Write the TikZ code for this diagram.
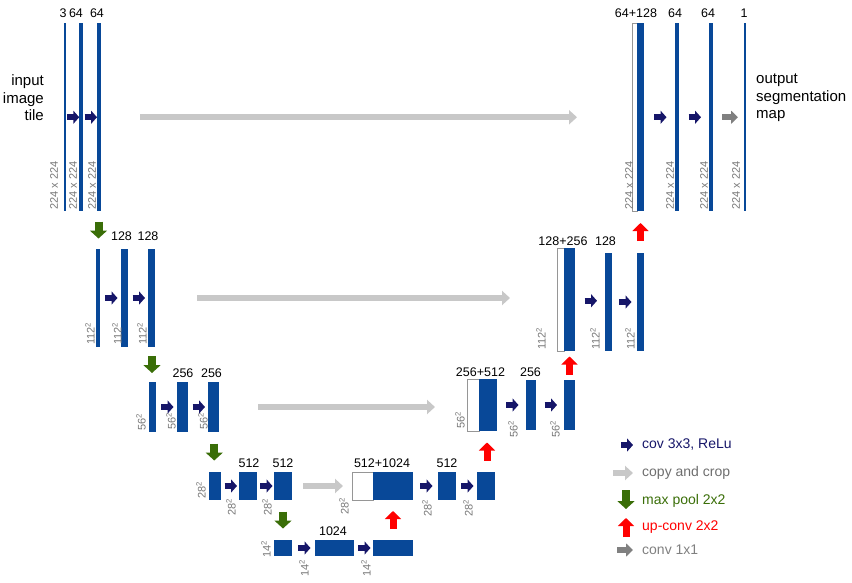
\documentclass[tikz,border=0pt]{standalone}
\usepackage{fontspec}
\setmainfont{Liberation Sans}
\usetikzlibrary{arrows.meta,calc}
\definecolor{unetblue}{RGB}{8,72,152}
\definecolor{convnavy}{RGB}{22,22,105}
\definecolor{copygray}{RGB}{200,200,200}
\definecolor{copytext}{RGB}{110,110,110}
\definecolor{poolgreen}{RGB}{58,110,8}
\definecolor{upred}{RGB}{255,0,0}
\definecolor{fingray}{RGB}{128,128,128}
\definecolor{sizegray}{RGB}{120,120,120}
\definecolor{catgray}{RGB}{150,150,150}
\begin{document}
\begin{tikzpicture}[x=1pt, y=-1pt,
 bar/.style args = {#1/#2}{%
      rectangle, fill=unetblue, inner sep=0pt, outer sep=0pt,
      anchor=north west, minimum width=#1pt, minimum height=#2pt},
 cat/.style args = {#1/#2}{%
      rectangle, draw=catgray, line width=0.6pt, fill=white,
      inner sep=0pt, outer sep=0pt,
      anchor=north west, minimum width=#1pt, minimum height=#2pt},
 chan/.style = {font=\fontsize{12.5}{15}\selectfont, inner sep=0pt},
 sizelbl/.style = {font=\fontsize{11}{13}\selectfont, text=sizegray,
      rotate=90, anchor=west, inner sep=0pt},
 side/.style = {font=\fontsize{15}{17.5}\selectfont, inner sep=0pt},
 legend/.style = {font=\fontsize{14}{16}\selectfont, anchor=west, inner sep=0pt},
 convtip/.style = {draw=convnavy, line width=6pt, -{Triangle[length=6pt,width=13pt]}},
 copytip/.style = {draw=copygray, line width=5.5pt, -{Triangle[length=8pt,width=14pt]}},
 pooltip/.style = {draw=poolgreen, line width=8pt, -{Triangle[length=8pt,width=17pt]}},
 uptip/.style = {draw=upred, line width=7pt, -{Triangle[length=8pt,width=16pt]}},
 fintip/.style = {draw=fingray, line width=6pt, -{Triangle[length=7pt,width=13pt]}},
 conv/.style = {convtip, to path={%
      ($(\tikztostart)!0.5!(\tikztotarget)+(-5.5,0)$) --
      ($(\tikztostart)!0.5!(\tikztotarget)+(7,0)$)}},
 fin/.style = {fintip, to path={%
      ($(\tikztostart)!0.5!(\tikztotarget)+(-6.5,0)$) --
      ($(\tikztostart)!0.5!(\tikztotarget)+(9.5,0)$)}},
 pool/.style = {pooltip, to path={%
      ($(\tikztostart)!0.5!(\tikztotarget)+(0,-8.5)$) --
      ($(\tikztostart)!0.5!(\tikztotarget)+(0,8.5)$)}},
 up/.style = {uptip, to path={%
      ($(\tikztostart)!0.5!(\tikztotarget)+(0,9)$) --
      ($(\tikztostart)!0.5!(\tikztotarget)+(0,-9)$)}},
 copy/.style 2 args = {copytip, shorten <=#1pt, shorten >=#2pt}
                    ]
\useasboundingbox (0,0) rectangle (852,583);
% contracting path
\node(e11) [bar=1.5/187.5] at (64,23.5) {};
\node(e12) [bar=4/187.5] at (79,23.5) {};
\node(e13) [bar=4/187.5] at (97,23.5) {};
\node(e21) [bar=4/98] at (96,249) {};
\node(e22) [bar=7/98] at (121,249) {};
\node(e23) [bar=7/98] at (148,249) {};
\node(e31) [bar=7/50] at (149,382) {};
\node(e32) [bar=11/50] at (177,382) {};
\node(e33) [bar=11/50] at (208,382) {};
\node(e41) [bar=12/28] at (209,472) {};
\node(e42) [bar=18/28] at (239,472) {};
\node(e43) [bar=18/28] at (274,472) {};
\node(e51) [bar=18/16] at (274,540) {};
\node(e52) [bar=39/16] at (315,540) {};
\node(e53) [bar=40/16] at (373,540) {};
% expanding path
\node(d41w) [cat=21/28] at (352,472) {};
\node(d41) [bar=40/28] at (373,472) {};
\node(d42) [bar=18/28] at (438,472) {};
\node(d43) [bar=18/28] at (477,472) {};
\node(d31w) [cat=12/52] at (467,379) {};
\node(d31) [bar=18/52] at (479,379) {};
\node(d32) [bar=10/50] at (526,380) {};
\node(d33) [bar=11/50] at (564,380) {};
\node(d21w) [cat=7/103] at (557,248) {};
\node(d21) [bar=11/103] at (564,248) {};
\node(d22) [bar=7/98] at (605,253) {};
\node(d23) [bar=7/98] at (637,253) {};
\node(d11w) [cat=5/187.5] at (632,23.5) {};
\node(d11) [bar=7/187.5] at (637,23.5) {};
\node(d12) [bar=4/187.5] at (675,23.5) {};
\node(d13) [bar=4/187.5] at (709,23.5) {};
\node(d14) [bar=1.5/187.5] at (744,23.5) {};
% channel numbers
\node(t11) [chan] at (63,13) {3};
\node(t12) [chan] at (76,13) {64};
\node(t13) [chan] at (97,13) {64};
\node(t22) [chan] at (121.5,236) {128};
\node(t23) [chan] at (148,236) {128};
\node(t32) [chan] at (183,373) {256};
\node(t33) [chan] at (211.5,373) {256};
\node(t42) [chan] at (249,463) {512};
\node(t43) [chan] at (283,463) {512};
\node(t52) [chan] at (333,531) {1024};
\node(u41) [chan] at (382,463) {512+1024};
\node(u42) [chan] at (447,463) {512};
\node(u31) [chan] at (480.5,372) {256+512};
\node(u32) [chan] at (530.5,372) {256};
\node(u21) [chan] at (563,241) {128+256};
\node(u22) [chan] at (605.5,241) {128};
\node(u11) [chan] at (636,13) {64+128};
\node(u12) [chan] at (675,13) {64};
\node(u13) [chan] at (708,13) {64};
\node(u14) [chan] at (744,13) {1};
% feature map sizes
\node(s11) [sizelbl] at (54,210) {224 x 224};
\node(s12) [sizelbl] at (73,210) {224 x 224};
\node(s13) [sizelbl] at (92,210) {224 x 224};
\node(s21) [sizelbl] at (90,345) {112\textsuperscript{2}};
\node(s22) [sizelbl] at (117,345) {112\textsuperscript{2}};
\node(s23) [sizelbl] at (142,345) {112\textsuperscript{2}};
\node(s31) [sizelbl] at (141,431) {56\textsuperscript{2}};
\node(s32) [sizelbl] at (171,430) {56\textsuperscript{2}};
\node(s33) [sizelbl] at (203,430) {56\textsuperscript{2}};
\node(s41) [sizelbl] at (201,499) {28\textsuperscript{2}};
\node(s42) [sizelbl] at (231,516) {28\textsuperscript{2}};
\node(s43) [sizelbl] at (267,516) {28\textsuperscript{2}};
\node(s51) [sizelbl] at (266,558) {14\textsuperscript{2}};
\node(s52) [sizelbl] at (304,577) {14\textsuperscript{2}};
\node(s53) [sizelbl] at (366,577) {14\textsuperscript{2}};
\node(r41) [sizelbl] at (344,515) {28\textsuperscript{2}};
\node(r42) [sizelbl] at (427,517) {28\textsuperscript{2}};
\node(r43) [sizelbl] at (468,517) {28\textsuperscript{2}};
\node(r31) [sizelbl] at (460,429) {56\textsuperscript{2}};
\node(r32) [sizelbl] at (513,438) {56\textsuperscript{2}};
\node(r33) [sizelbl] at (555,438) {56\textsuperscript{2}};
\node(r21) [sizelbl] at (541,350) {112\textsuperscript{2}};
\node(r22) [sizelbl] at (595,350) {112\textsuperscript{2}};
\node(r23) [sizelbl] at (630,350) {112\textsuperscript{2}};
\node(r11) [sizelbl] at (629,210) {224 x 224};
\node(r12) [sizelbl] at (670,210) {224 x 224};
\node(r13) [sizelbl] at (704,210) {224 x 224};
\node(r14) [sizelbl] at (736,210) {224 x 224};
% input and output
\node(inp) [side, anchor=east, align=right] at (44,98) {input\\image\\tile};
\node(outp) [side, anchor=west, align=left] at (756,98) {output\\segmentation\\map};
%
\path   (e11.east) edge[conv] (e12.west);
\path   (e12.east) edge[conv] (e13.west);
\path   (e21.east) edge[conv] (e22.west);
\path   (e22.east) edge[conv] (e23.west);
\path   (e31.east) edge[conv] (e32.west);
\path   (e32.east) edge[conv] (e33.west);
\path   (e41.east) edge[conv] (e42.west);
\path   (e42.east) edge[conv] (e43.west);
\path   (e51.east) edge[conv] (e52.west);
\path   (e52.east) edge[conv] (e53.west);
\path   (d41.east) edge[conv] (d42.west);
\path   (d42.east) edge[conv] (d43.west);
\path   (d31.east) edge[conv] (d32.west);
\path   (d32.east) edge[conv] (d33.west);
\path   (d21.east) edge[conv] (d22.west);
\path   (d22.east) edge[conv] (d23.west);
\path   (d11.east) edge[conv] (d12.west);
\path   (d12.east) edge[conv] (d13.west);
\path   (d13.east) edge[fin] (d14.west);
%
\path   (e13.south) edge[pool] (e21.north);
\path   (e23.south) edge[pool] (e31.north);
\path   (e33.south) edge[pool] (e41.north);
\path   (e43.south) edge[pool] (e51.north);
%
\path   (e53.north) edge[up] (d41.south);
\path   (d43.north) edge[up] (d31.south);
\path   (d33.north) edge[up] (d21.south);
\path   (d23.north) edge[up] (d11.south);
%
\path   (e13.east) edge[copy={39}{55}] (e13.east -| d11w.west);
\path   (e23.east) edge[copy={42}{47}] (e23.east -| d21w.west);
\path   (e33.east) edge[copy={39}{32}] (e33.east -| d31w.west);
\path   (e43.east) edge[copy={11}{9}] (e43.east -| d41w.west);
% legend
\node(lg1) [legend, text=convnavy] at (642,445) {cov 3x3, ReLu};
\node(lg2) [legend, text=copytext] at (642,473) {copy and crop};
\node(lg3) [legend, text=poolgreen] at (642,501) {max pool 2x2};
\node(lg4) [legend, text=upred] at (642,527) {up-conv 2x2};
\node(lg5) [legend, text=fingray] at (642,550) {conv 1x1};
\draw[convtip] ([xshift=-21pt]lg1.west) -- ([xshift=-9pt]lg1.west);
\draw[copytip] ([xshift=-29pt]lg2.west) -- ([xshift=-9pt]lg2.west);
\draw[pooltip] ([xshift=-16pt,yshift=11pt]lg3.west) -- ([xshift=-16pt,yshift=-8pt]lg3.west);
\draw[uptip] ([xshift=-16pt,yshift=-10pt]lg4.west) -- ([xshift=-16pt,yshift=9pt]lg4.west);
\draw[fintip] ([xshift=-25pt]lg5.west) -- ([xshift=-9pt]lg5.west);
\end{tikzpicture}
\end{document}
